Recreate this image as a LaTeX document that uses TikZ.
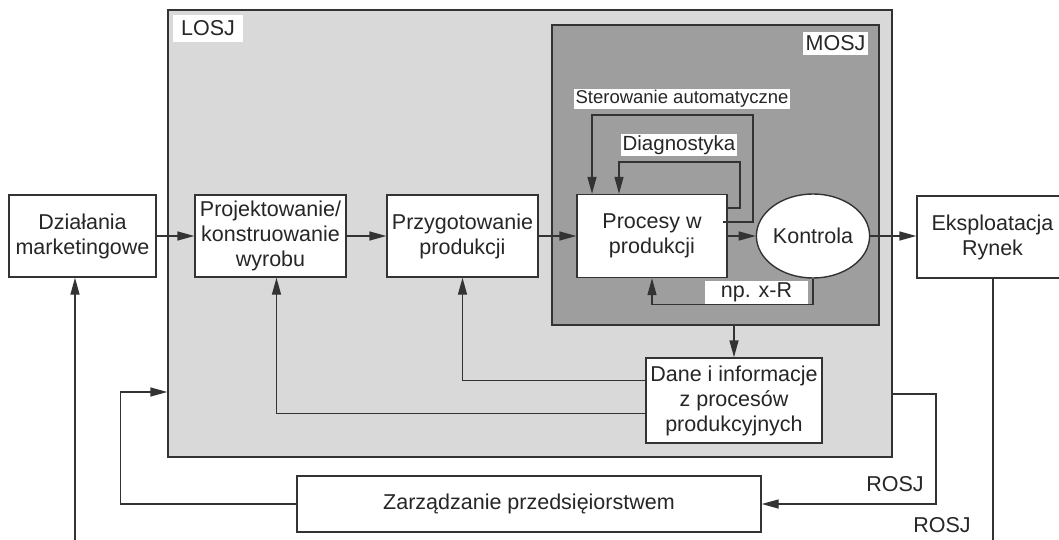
\documentclass[tikz,border=0pt]{standalone}
\usepackage{fontspec}
\setmainfont{Liberation Sans}
\usetikzlibrary{arrows.meta,shapes.geometric}
\tikzset{
  box/.style={draw=black!80, fill=white, line width=1.4pt, minimum width=151pt, minimum height=82pt, align=center, inner sep=1pt},
  lbl/.style={fill=white, inner sep=1.5pt},
  wire/.style={draw=black!80, line width=1.4pt},
  flow/.style={wire, -{Triangle[length=17pt,width=9pt]}},
}
\begin{document}
\begin{tikzpicture}[x=1pt,y=-1pt,font=\fontsize{21.5}{25}\selectfont,text=black!85]
\useasboundingbox (0,0) rectangle (1059,540);

\node[draw=black!80, fill=black!15, line width=1.4pt, minimum width=724pt, minimum height=447pt, inner sep=0pt] (losj) at (530,233.5) {};
\node[draw=black!80, fill=black!38, line width=1.4pt, minimum width=327pt, minimum height=300pt, inner sep=0pt] (mosj) at (715.5,175) {};
\node[lbl, minimum width=70pt, minimum height=27pt] (losjlbl) at (208,28.5) {LOSJ};
\node[lbl, minimum width=65pt, minimum height=23pt] (mosjlbl) at (835.5,43.5) {MOSJ};

\node[box, minimum width=147pt] (dzial) at (82.5,236) {Działania\\marketingowe};
\node[box] (proj) at (270.5,236) {Projektowanie/\\konstruowanie\\wyrobu};
\node[box] (przyg) at (462.5,236) {Przygotowanie\\produkcji};
\node[box, minimum width=150pt, minimum height=83pt] (proc) at (652,236) {Procesy w\\produkcji};
\node[draw=black!80, fill=white, line width=1.4pt, ellipse, minimum width=96pt, minimum height=84pt, inner sep=0pt] (kontr) at (813,236) {Kontrola};
\node[box] (ekspl) at (992.5,237) {Eksploatacja\\Rynek};
\node[box, minimum width=176pt, minimum height=85pt] (dane) at (734,400.5) {Dane i informacje\\z procesów\\produkcyjnych};
\node[box, minimum width=464pt, minimum height=56pt] (zarz) at (529,504) {Zarządzanie przedsięiorstwem};

\foreach \a/\b in {dzial/proj, proj/przyg, przyg/proc, proc/kontr, kontr/ekspl}{
    \draw[flow] (\a.east) -- (\a.east -| \b.west);
}

% petle w MOSJ
\draw[flow] ([shift={(-5pt,14pt)}]proc.east) -| (753,115) -| ([xshift=-60pt]proc.north);
\draw[flow] ([yshift=28pt]proc.east) -| (740,162) -| ([xshift=-33pt]proc.north);
\node[lbl, font=\fontsize{18.5}{22}\selectfont] (sterlbl) at (682,99) {Sterowanie automatyczne};
\node[lbl, font=\fontsize{20.5}{24}\selectfont] (diaglbl) at (679,145) {Diagnostyka};
\draw[flow] (kontr.south) -- ++(0,26) -| (proc.south);
\node[lbl, minimum width=103pt, minimum height=20pt] (nplbl) at (756.5,292.5) {np. x-R};

\draw[flow] (dane.north |- mosj.south) -- (dane.north);
\draw[flow] ([yshift=20pt]dane.west) -| (przyg.south);
\draw[flow] ([yshift=-13pt]dane.west) -| ([xshift=6pt]proj.south);

\draw[flow] (zarz.west) -- ++(-176,0) |- (losj.west |- 0,392);
\draw[flow] (losj.east |- 0,394) -- (936,394) |- (zarz.east);
\node (rosj) at (895,484) {ROSJ};
\node (rosjb) at (942,525) {ROSJ};

\coordinate (bl) at (75,540);
\coordinate (br) at (993,540);
\draw[flow] (bl) -- (bl |- dzial.south);
\draw[wire] (ekspl.south -| br) -- (br);

\end{tikzpicture}
\end{document}
